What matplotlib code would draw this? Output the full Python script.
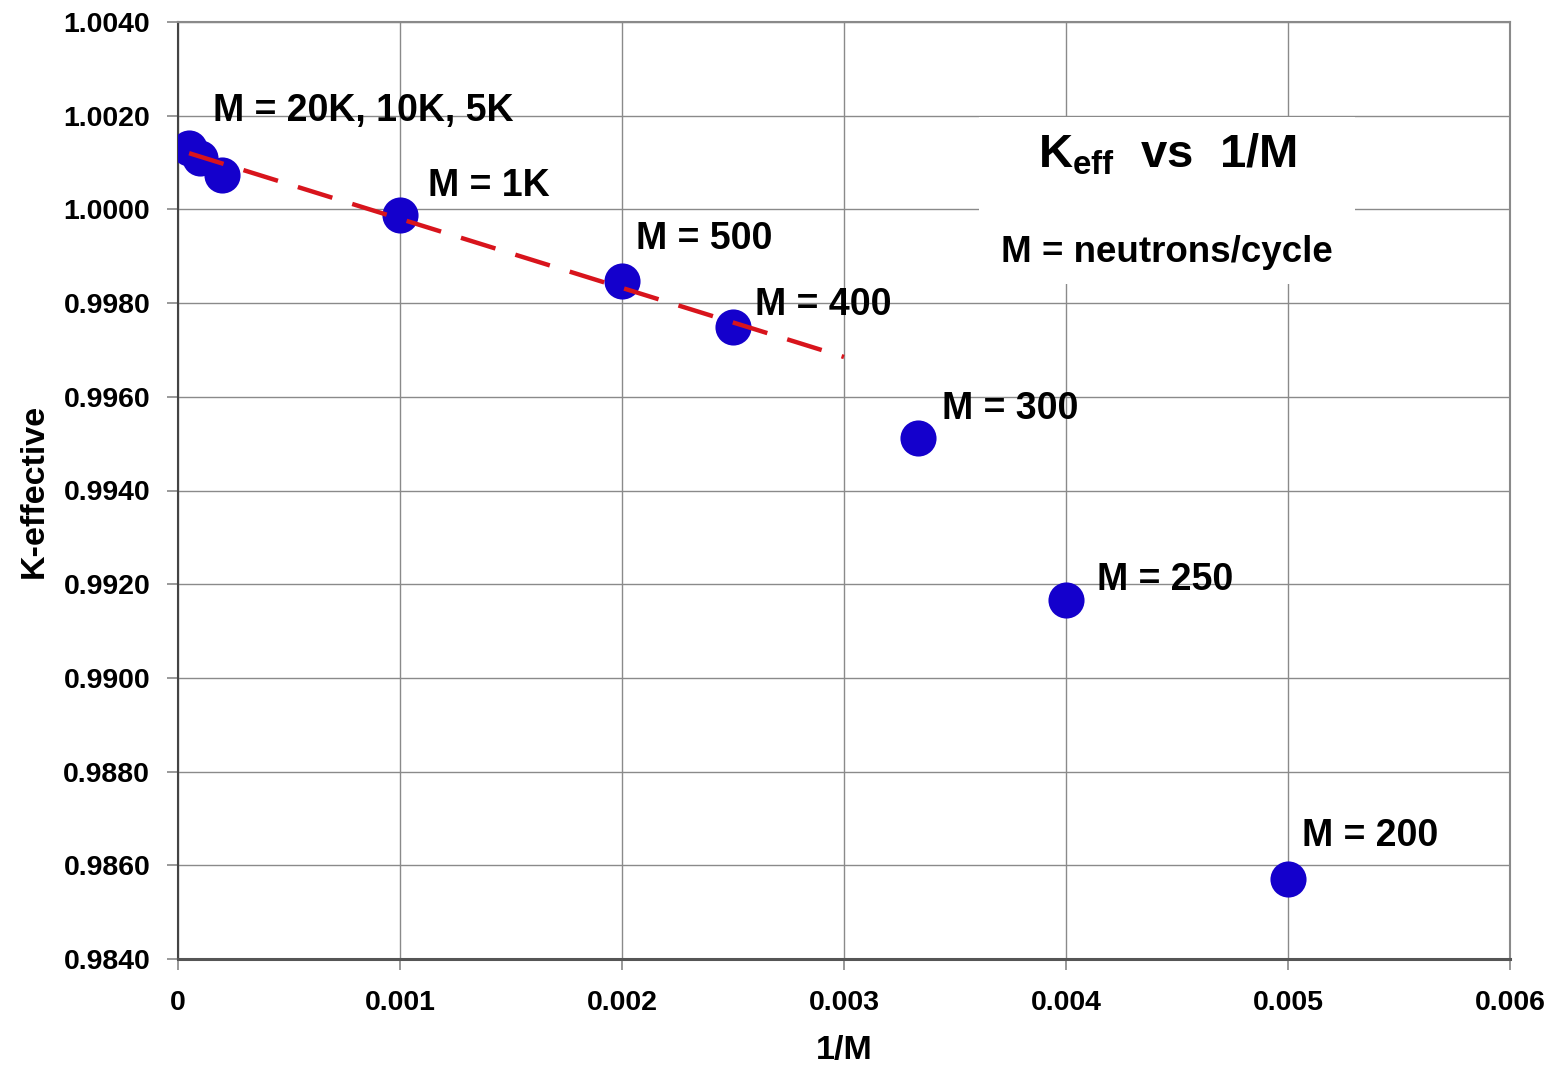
import matplotlib
matplotlib.use("Agg")
import matplotlib.pyplot as plt
from matplotlib.patches import Rectangle

plt.rcParams['font.family'] = ['Liberation Sans', 'DejaVu Sans']
plt.rcParams['font.weight'] = 'bold'
plt.rcParams['mathtext.fontset'] = 'custom'
plt.rcParams['mathtext.rm'] = 'Liberation Sans:bold'
plt.rcParams['mathtext.bf'] = 'Liberation Sans:bold'
plt.rcParams['mathtext.it'] = 'Liberation Sans:bold'
plt.rcParams['lines.scale_dashes'] = False

# Data
inv_m = [0.00005, 0.0001, 0.0002, 0.001, 0.002, 0.0025, 1/300, 0.004, 0.005]
keff = [1.00131, 1.00110, 1.00073, 0.99988, 0.99847, 0.99749, 0.99512, 0.99166, 0.98571]
fit_x = [0.00005, 0.003]
fit_y = [1.00120, 0.99685]
labels = ["M = 20K, 10K, 5K", "M = 1K", "M = 500", "M = 400", "M = 300", "M = 250", "M = 200"]
label_x = [0.000158, 0.001126, 0.002063, 0.002599, 0.003441, 0.00414, 0.005063]
label_y = [1.00189, 1.000286, 0.999155, 0.997746, 0.995526, 0.991876, 0.98641]
xticks = [0, 0.001, 0.002, 0.003, 0.004, 0.005, 0.006]
xtick_labels = ["0", "0.001", "0.002", "0.003", "0.004", "0.005", "0.006"]
yticks = [0.9840, 0.9860, 0.9880, 0.9900, 0.9920, 0.9940, 0.9960, 0.9980, 1.0000, 1.0020, 1.0040]

fig = plt.figure(figsize=(15.54, 10.65), dpi=100)
ax = fig.add_axes([178/1554, 1 - 959/1065, (1510-178)/1554, (959-22)/1065])

ax.plot(inv_m, keff, linestyle='none', marker='o', markersize=26,
        color='#1400cc', markeredgewidth=0, zorder=3)
ax.plot(fit_x, fit_y, color='#d8141c', linewidth=3.2, dashes=(26, 15),
        zorder=4, solid_capstyle='butt', dash_capstyle='butt')

for t, x, y in zip(labels, label_x, label_y):
    ax.text(x, y, t, fontsize=27, fontweight='bold', ha='left', va='baseline', zorder=5)

ax.set_xlim(0, 0.006)
ax.set_ylim(0.9840, 1.0040)
ax.set_xticks(xticks)
ax.set_xticklabels(xtick_labels)
ax.set_yticks(yticks)
ax.set_yticklabels([f"{v:.4f}" for v in yticks])

ax.grid(True, color='#8a8a8a', linewidth=1.0, zorder=0)
ax.set_axisbelow(True)

# white title box
ax.add_patch(Rectangle(((979-178)/1332, 1 - (284-22)/937), (1355-979)/1332, (284-117)/937,
                       transform=ax.transAxes, facecolor='white', edgecolor='none', zorder=1))
ax.text((1167-178)/1332, 1 - (155-22)/937, r'K$_{\mathregular{eff}}$  vs  1/M', transform=ax.transAxes,
        fontsize=34, fontweight='bold', ha='center', va='center', zorder=5)
ax.text((1167-178)/1332, 1 - (252-22)/937, 'M = neutrons/cycle', transform=ax.transAxes,
        fontsize=26.5, fontweight='bold', ha='center', va='center', zorder=5)

for s in ['top', 'right']:
    ax.spines[s].set_color('#8a8a8a')
    ax.spines[s].set_linewidth(1.5)
ax.spines['left'].set_color('#444444')
ax.spines['left'].set_linewidth(1.5)
ax.spines['bottom'].set_color('#555555')
ax.spines['bottom'].set_linewidth(2.2)

ax.tick_params(axis='both', direction='out', length=8, width=1.2, color='#888888',
               labelsize=20.5)
ax.tick_params(axis='x', pad=14)
ax.tick_params(axis='y', pad=12)
for lab in ax.get_xticklabels() + ax.get_yticklabels():
    lab.set_fontweight('bold')

ax.set_xlabel('1/M', fontsize=24.5, fontweight='bold', labelpad=14)
ax.set_ylabel('K-effective', fontsize=24.5, fontweight='bold', labelpad=10)

fig.savefig('out.png', dpi=100)
